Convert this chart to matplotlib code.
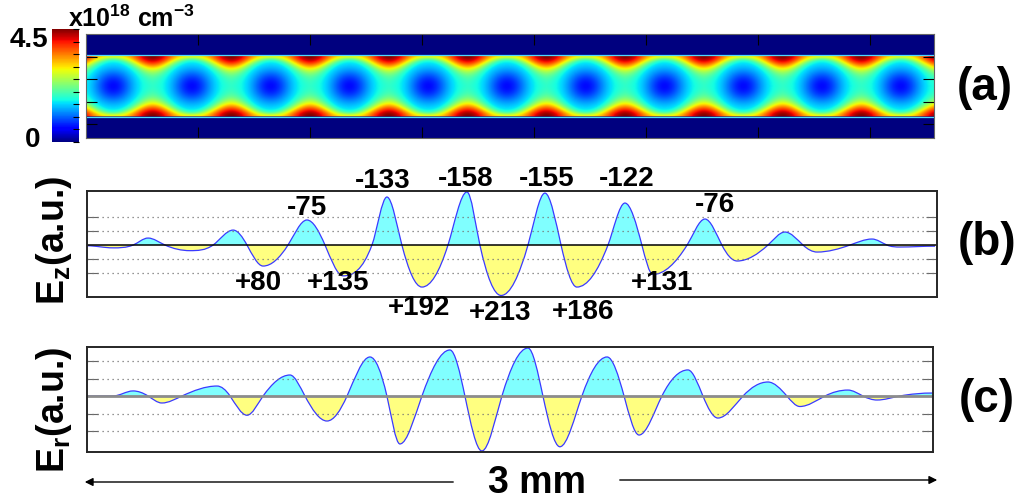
import numpy as np
import matplotlib
matplotlib.use('Agg')
import matplotlib.pyplot as plt
from matplotlib.path import Path
from matplotlib.patches import PathPatch, Rectangle, FancyArrowPatch

plt.rcParams['font.family'] = ['Liberation Sans', 'DejaVu Sans']
plt.rcParams['font.weight'] = 'bold'
plt.rcParams['mathtext.fontset'] = 'custom'
plt.rcParams['mathtext.rm'] = 'Liberation Sans:bold'
plt.rcParams['mathtext.it'] = 'Liberation Sans:bold'
plt.rcParams['mathtext.bf'] = 'Liberation Sans:bold'
plt.rcParams['mathtext.default'] = 'rm'

# DATA
# Ez on axis, position along the 3 mm window (mm) and value (grid units)
ez_x = [0.000, 0.092, 0.163, 0.216, 0.276, 0.364, 0.446, 0.517, 0.566, 0.623,
        0.711, 0.778, 0.842, 0.906, 1.008, 1.061, 1.114, 1.185, 1.277, 1.344,
        1.390, 1.465, 1.560, 1.620, 1.677, 1.733, 1.843, 1.903, 1.963, 2.002,
        2.123, 2.186, 2.246, 2.300, 2.409, 2.469, 2.533, 2.583, 2.699, 2.777,
        2.830, 2.876, 3.000]
ez_v = [-0.05, -0.2, 0.0, 0.5, 0.0, -0.4, 0.0, 1.07, 0.0, -1.5,
        0.0, 1.79, 0.0, -2.2, 0.0, 3.43, 0.0, -3.0, 0.0, 3.79,
        0.0, -3.6, 0.0, 3.71, 0.0, -3.0, 0.0, 3.0, 0.0, -2.1,
        0.0, 1.86, 0.0, -1.14, 0.0, 0.93, 0.0, -0.5, 0.0, 0.43,
        0.0, -0.14, -0.08]

# Er off axis
er_x = [0.000, 0.092, 0.163, 0.216, 0.265, 0.336, 0.460, 0.506, 0.566, 0.623,
        0.718, 0.771, 0.849, 0.920, 1.001, 1.061, 1.107, 1.185, 1.284, 1.337,
        1.397, 1.468, 1.560, 1.613, 1.673, 1.751, 1.840, 1.900, 1.953, 2.034,
        2.126, 2.179, 2.232, 2.321, 2.409, 2.476, 2.522, 2.611, 2.692, 2.745,
        2.795, 2.876, 2.993]
er_v = [0.0, 0.0, 0.29, 0.0, -0.4, 0.0, 0.57, 0.0, -1.1, 0.0,
        1.2, 0.0, -1.43, 0.0, 2.23, 0.0, -2.74, 0.0, 2.63, 0.0,
        -3.14, 0.0, 2.74, 0.0, -2.9, 0.0, 2.23, 0.0, -2.23, 0.0,
        1.49, 0.0, -1.26, 0.0, 0.8, 0.0, -0.6, 0.0, 0.34, 0.0,
        -0.23, 0.0, 0.17]

# labels on the Ez peaks
ez_labels = ['-75', '-133', '-158', '-155', '-122', '-76',
             '+80', '+135', '+192', '+213', '+186', '+131']
ez_label_x = [0.778, 1.047, 1.341, 1.627, 1.910, 2.222,
              0.605, 0.888, 1.175, 1.461, 1.755, 2.034]
ez_label_y = [2.64, 4.57, 4.71, 4.71, 4.71, 2.86,
              -2.71, -2.71, -4.5, -4.86, -4.79, -2.71]

# density map (x10^18 cm^-3)
n_max = 4.5
n_base = 1.85
core_depth = 1.25
wall_low = 3.0
bubble_x0 = 0.241
bubble_period = 0.7036
ch_center = 2.31
ch_half = 1.356

W, H = 1028, 501
fig = plt.figure(figsize=(W / 100, H / 100), dpi=100)


def box(l, t, r, b):
    return [l / W, 1 - b / H, (r - l) / W, (b - t) / H]


def ftext(px, py, s, **kw):
    fig.text(px / W, 1 - py / H, s, **kw)


# (a) density
ax_a = fig.add_axes(box(86, 34, 934, 138))
cax = fig.add_axes(box(52, 29, 79, 142))
gx = np.linspace(0, 7.571, 1400)
gy = np.linspace(0, 4.62, 260)
X, Y = np.meshgrid(gx, gy)
u = (Y - ch_center) / ch_half
d = ((X - bubble_x0) / bubble_period + 0.5) % 1 - 0.5
s = np.sin(np.pi * d) ** 2
dens = n_base - core_depth * np.exp(-((d / 0.27) ** 2 + (u / 0.62) ** 2))
L = 0.12 + 0.33 * s
amp = (wall_low - n_base) + (n_max - wall_low) * s ** 1.5
dens = dens + amp * np.exp(-((1 - np.abs(u)) / L) ** 2)
dens[np.abs(u) > 1] = 0
dens = np.clip(dens, 0, n_max)
im = ax_a.imshow(dens, cmap='jet', vmin=0, vmax=n_max, aspect='auto',
                 extent=(0, 7.571, 4.62, 0), interpolation='bilinear')
for yb in (ch_center - ch_half, ch_center + ch_half):
    ax_a.axhline(yb, color=(0.3, 0.85, 1.0), lw=0.9)
ax_a.set_xticks(range(1, 8))
ax_a.set_yticks([1, 2, 3, 4])
ax_a.tick_params(direction='in', length=8, color='k', top=True, right=True,
                 labelbottom=False, labelleft=False)
for sp in ax_a.spines.values():
    sp.set_linewidth(0.8)
    sp.set_color('0.4')

cb = fig.colorbar(im, cax=cax, ticks=np.arange(0, 4.51, 0.5))
cb.outline.set_visible(False)
cb.ax.tick_params(direction='in', length=4, color='k', labelright=False)

ftext(48, 40, '4.5', fontsize=20, ha='right', va='center')
ftext(33, 140, '0', fontsize=20, ha='center', va='center')
ftext(68, 27, r'x10$^{18}$ cm$^{-3}$', fontsize=18, ha='left', va='baseline')


def wave_paths(xs, ys):
    xs = np.asarray(xs, float)
    ys = np.asarray(ys, float)
    n = len(xs)
    m = np.zeros(n)
    for i in range(1, n - 1):
        dl = (ys[i] - ys[i - 1]) / (xs[i] - xs[i - 1])
        dr = (ys[i + 1] - ys[i]) / (xs[i + 1] - xs[i])
        if dl * dr > 0:
            sec = (ys[i + 1] - ys[i - 1]) / (xs[i + 1] - xs[i - 1])
            mi = 1.5 * sec
            lim = 3 * min(abs(dl), abs(dr))
            m[i] = np.sign(mi) * min(abs(mi), lim)
    verts = [(xs[0], ys[0])]
    codes = [Path.MOVETO]
    for i in range(n - 1):
        h = xs[i + 1] - xs[i]
        verts += [(xs[i] + h / 3, ys[i] + m[i] * h / 3),
                  (xs[i + 1] - h / 3, ys[i + 1] - m[i + 1] * h / 3),
                  (xs[i + 1], ys[i + 1])]
        codes += [Path.CURVE4] * 3
    line = Path(verts, codes)
    fverts = [(xs[0], 0)] + verts + [(xs[-1], 0), (xs[0], 0)]
    fcodes = [Path.MOVETO, Path.LINETO] + codes[1:] + [Path.LINETO, Path.CLOSEPOLY]
    return line, Path(fverts, fcodes)


def wave_panel(ax, xs, ys, xlim, ylim, zero_color, zero_lw):
    line, fill = wave_paths(xs, ys)
    for col, y0, hgt in (('#80ffff', 0, 50), ('#ffff80', -50, 50)):
        p = PathPatch(fill, facecolor=col, edgecolor='none')
        ax.add_patch(p)
        p.set_clip_path(Rectangle((-1, y0), 10, hgt, transform=ax.transData))
    for g in (-2, -1, 1, 2):
        ax.axhline(g, color='0.45', lw=0.9, ls=(0, (1, 3)))
    ax.axhline(0, color=zero_color, lw=zero_lw)
    ax.add_patch(PathPatch(line, fill=False, edgecolor='#3a3aff', lw=0.9))
    ax.set_xlim(*xlim)
    ax.set_ylim(*ylim)
    ax.set_xticks([])
    ax.set_yticks([-2, -1, 1, 2])
    ax.tick_params(direction='in', length=8, color='0.4', left=True, right=True,
                   labelleft=False)
    for sp in ax.spines.values():
        sp.set_linewidth(1.4)
        sp.set_color('0.15')


ax_b = fig.add_axes(box(87, 191, 937, 297))
wave_panel(ax_b, ez_x, ez_v, (0, 3.007), (-3.71, 3.86), 'k', 1.1)
for t, lx, ly in zip(ez_labels, ez_label_x, ez_label_y):
    ax_b.text(lx, ly, t, fontsize=20, ha='center', va='center', clip_on=False)

ax_c = fig.add_axes(box(87, 347, 933, 452))
wave_panel(ax_c, er_x, er_v, (0, 2.993), (-3.2, 2.8), '0.55', 2.0)

ftext(54, 240, r'E$_\mathrm{z}$(a.u.)', fontsize=27, rotation=90,
      ha='center', va='center')
ftext(54, 410, r'E$_\mathrm{r}$(a.u.)', fontsize=27, rotation=90,
      ha='center', va='center')

ftext(985, 88, '(a)', fontsize=33, ha='center', va='center')
ftext(987, 243, '(b)', fontsize=33, ha='center', va='center')
ftext(987, 400, '(c)', fontsize=33, ha='center', va='center')

ftext(537, 483, '3 mm', fontsize=27, ha='center', va='center')
arr = dict(arrowstyle='-|>', color='k', lw=1.0, mutation_scale=12)
fig.add_artist(FancyArrowPatch((456 / W, 1 - 482 / H), (82 / W, 1 - 482 / H),
                               transform=fig.transFigure, **arr))
fig.add_artist(FancyArrowPatch((617 / W, 1 - 480 / H), (940 / W, 1 - 480 / H),
                               transform=fig.transFigure, **arr))

fig.savefig('out.png', dpi=100)
